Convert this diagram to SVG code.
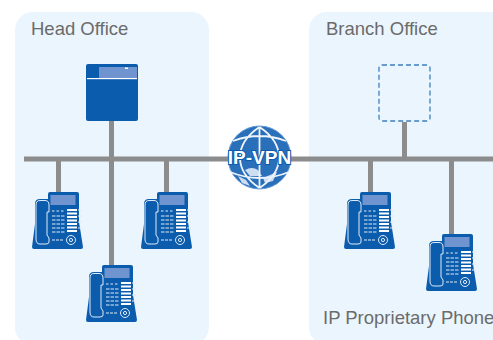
<svg xmlns="http://www.w3.org/2000/svg" width="493" height="340" viewBox="0 0 493 340">
<style>
.office{fill:#ebf5fd}
.lbl{font-family:"Liberation Sans",Arial,sans-serif;font-size:18.500px;fill:#6b6b6b}
.wire{stroke:#8c8c8c;stroke-width:5;fill:none}
.b{fill:#0b5cad}
.l{fill:#6f94cf}
.w{fill:#fff}
.k{fill:none;stroke:#dfeaf7;stroke-width:1}
.g{fill:none;stroke:#eef4fb;stroke-width:1.800}
</style>
<defs>
<g id="phone">
<path class="b" d="M18 0H45Q47 0 47 2V30L51 55Q51 57 49 57H2Q0 57 0 55L3 32V12Q3 7 8 7H16V2Q16 0 18 0Z"/>
<path class="k" d="M4 47V13Q4 8.500 8 8.500H13Q17 8.500 17 13V20H15V43L17 46V50Q17 52 14 52H8Q4 52 4 47Z"/>
<rect class="l" x="18.500" y="3" width="25" height="10"/>
<path class="k" d="M20 19H33" stroke-dasharray="2.500 2" stroke-width="1.800"/>
<path class="k" d="M20 24H33M20 28H33M20 32H33M20 36H33M20 40H33" stroke-dasharray="3.500 1" stroke-width="2"/>
<path d="M35 18H45M35 21.500H45M35 25H45M35 28.500H45M35 32H45M35 35.500H45M35 39H45" stroke="#fff" stroke-width="1.800" fill="none"/>
<path d="M46 18H50M46 24H50M46 30H50M46 36H50" stroke="#dfeaf7" stroke-width="1" fill="none"/>
<circle cx="39" cy="48" r="4.500" class="k" stroke-width="1.200"/><circle cx="39" cy="48" r="1.600" class="k"/>
<path class="k" d="M20 48H32" stroke-dasharray="3 1" stroke-width="2"/>
</g>
</defs>
<g id="head-office">
<rect class="office" x="15" y="12" width="194" height="333" rx="18"/>
<text class="lbl" x="31" y="34.500">Head Office</text>
</g>
<g id="branch-office">
<rect class="office" x="309" y="12" width="220" height="333" rx="18"/>
<text class="lbl" x="326" y="34.500">Branch Office</text>
<text class="lbl" x="323" y="323.500">IP Proprietary Phone</text>
</g>
<g id="connectors">
<path class="wire" d="M24 159H493M111.500 120V270M58.500 159V195M166.500 159V195M370.500 159V195M404.500 122V159M451.500 159V238"/>
</g>
<g id="pbx-head">
<rect class="b" x="86" y="64" width="52" height="57" rx="2"/>
<rect class="l" x="99" y="67" width="38" height="11"/>
<rect class="w" x="125" y="67.500" width="3" height="1.500"/>
<rect class="w" x="87" y="78" width="50" height="1.200"/>
</g>
<g id="pbx-branch">
<rect x="379" y="65" width="51" height="56" rx="3" fill="none" stroke="#3f7fbf" stroke-width="1.300" stroke-dasharray="5 3"/>
</g>
<g id="phone-1"><use href="#phone" x="32" y="192"/></g>
<g id="phone-2"><use href="#phone" x="141" y="192"/></g>
<g id="phone-3"><use href="#phone" x="86" y="265"/></g>
<g id="phone-4"><use href="#phone" x="344" y="192"/></g>
<g id="phone-5"><use href="#phone" x="426" y="234"/></g>
<g id="ip-vpn">
<circle cx="259.500" cy="157.500" r="31.500" fill="#2a6fba" stroke="#5f97d6" stroke-width="1"/>
<path d="M259.500 127Q240 140 240 157.500T259.500 188M259.500 127Q279 140 279 157.500T259.500 188M259.500 127V188M233 141Q259.500 131 286 141M230 172Q259.500 184 289 172" class="g"/>
<path d="M245 170Q252 166 258 170L262 176L250 176ZM263 178L277 172L273 181L265 183ZM238 176L246 180L250 186L242 183Z" fill="#eaf2fb" opacity=".85"/>
<text x="259.500" y="164" text-anchor="middle" font-family="Liberation Sans,Arial,sans-serif" font-size="19" font-weight="700" fill="#fff" stroke="#0b5cad" stroke-width="2" paint-order="stroke">IP-VPN</text>
</g>
</svg>
